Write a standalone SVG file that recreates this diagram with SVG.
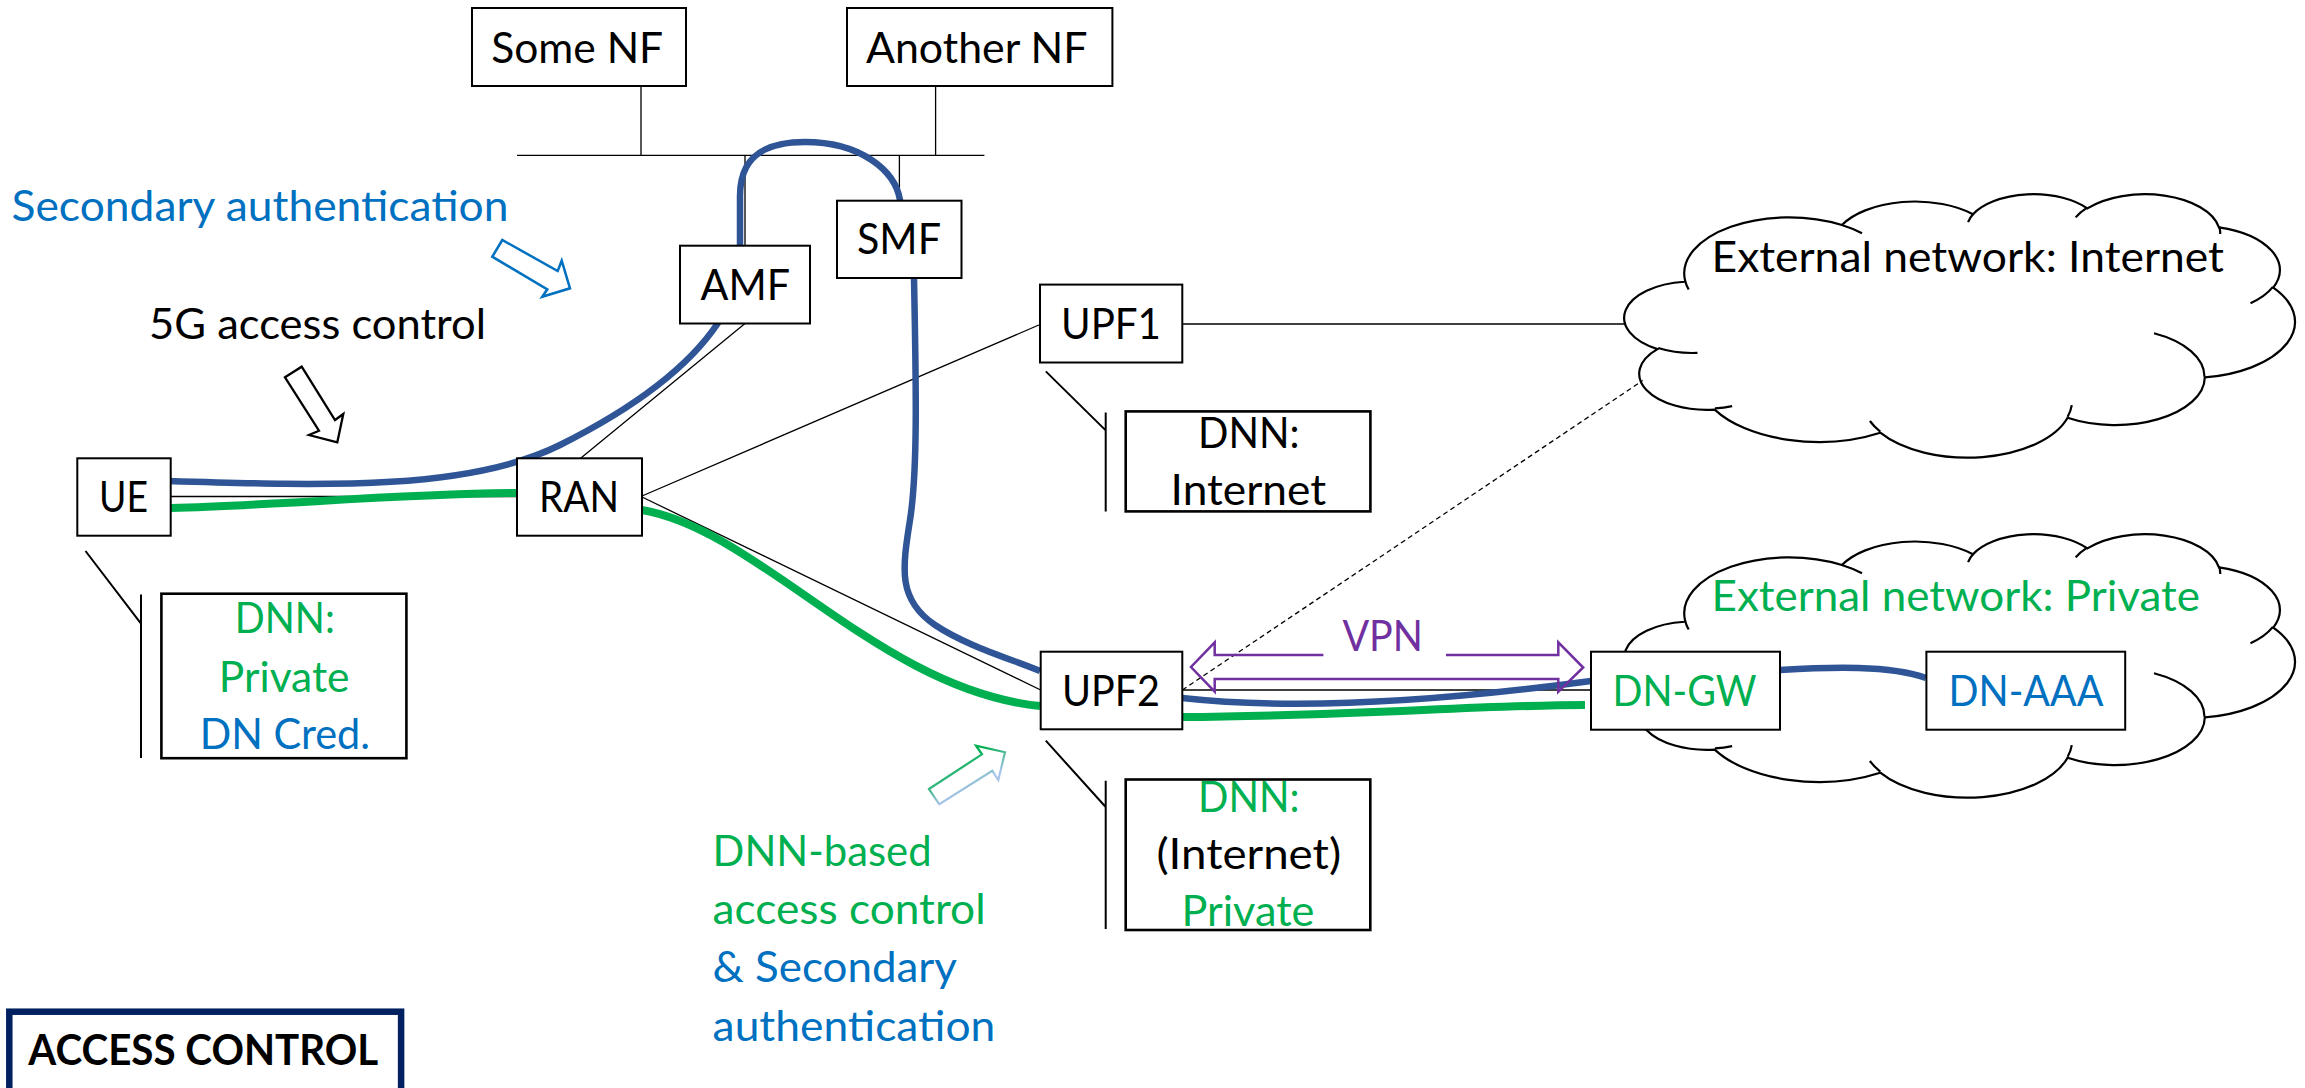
<svg xmlns="http://www.w3.org/2000/svg" width="2305" height="1088" viewBox="0 0 2305 1088">
<style>
.box{fill:#fff;stroke:#000;stroke-width:2}
.dnn{fill:#fff;stroke:#000;stroke-width:2.6}
.t{font-family:Lato,"Liberation Sans",sans-serif;font-size:42px;fill:#000}
.g{fill:#00B050}.b{fill:#0070C0}.p{fill:#7030A0}
.thin{stroke:#000;stroke-width:1.3;fill:none}
.br{stroke:#000;stroke-width:2;fill:none}
.blue{stroke:#2F5597;stroke-width:6.5;fill:none;stroke-linecap:butt}
.green{stroke:#00B050;stroke-width:8;fill:none}
.cl{stroke:#000;stroke-width:2.2;vector-effect:non-scaling-stroke}
</style>
<defs>
<linearGradient id="ga" gradientUnits="userSpaceOnUse" x1="953" y1="766" x2="966" y2="790">
<stop offset="0" stop-color="#00B050"/><stop offset="1" stop-color="#A9C4EB"/>
</linearGradient>
<g id="cloudShape">
<path class="cl" fill="#fff" d="M3900,14370 A6753,9190 0 0,1 14004.7,5201.7 A5333,7267 0 0,1 22455.5,3432.6 A4365,5945 0 0,1 29832.5,2481 A4857,6595 0 0,1 38317.5,5576.8 A5333,7273 0 0,1 41818,15460.6 A6775,9220 0 0,1 37404,30204.7 A5785,7867 0 0,1 28555.3,36814.7 A6752,9215 0 0,1 16479.5,39265.4 A7720,10543 0 0,1 5804.4,35472 A4360,5918 0 0,1 2113.2,25550 A4345,5945 0 0,1 3862.9,14506.2 Z"/>
<path class="cl" fill="none" d="M4693,26177 A4345,5945 0 0,1 2160,25380.2 M6928,34899 A4360,5918 0 0,1 5819.7,35280.4 M16478,39090 A6752,9215 0 0,1 15810,37349.3 M28827,34751 A6752,9215 0 0,1 28560.4,36660 M34129,22954 A5785,7867 0 0,1 37380.4,30089.6 M41798,15354 A5333,7273 0 0,1 40349.6,18030.5 M38324,5426 A4857,6595 0 0,1 38400.4,6689.5 M29078,3952 A4857,6595 0 0,1 29819.8,2340.1 M22141,4720 A4365,5945 0 0,1 22500.2,3329.9 M14000,5192 A6753,9190 0 0,1 15302.1,6543.2 M4127,15789 A6753,9190 0 0,1 3900.2,14370"/>
</g>
</defs>
<rect width="2305" height="1088" fill="#fff"/>

<g id="cloud-internet">
<use href="#cloudShape" transform="translate(1624.7,193.3) scale(0.015509,0.0060972)"/>
<text class="t" x="1711.5" y="271.7" textLength="512.5" lengthAdjust="spacingAndGlyphs">External network: Internet</text>
</g>
<g id="cloud-private">
<use href="#cloudShape" transform="translate(1624.7,533.3) scale(0.015509,0.0060972)"/>
<text class="t g" x="1711.5" y="610.7" textLength="488.5" lengthAdjust="spacingAndGlyphs">External network: Private</text>
</g>

<g id="connectors">
<path class="thin" d="M517,155.3 H984.4 M641,86 V155.3 M935.6,86 V155.3 M745,155.3 V245.7 M899.4,155.3 V200.7"/>
<path class="thin" d="M580.6,458.3 L745,323.5 M642,496 L1040,324.5 M642,497 L1040.7,690 M170.7,496.5 H516.7 M1182.3,324 H1626"/>
<path class="thin" stroke-width="1.6" d="M1182.3,690 H1591"/>
<path class="thin" stroke-width="1.2" stroke-dasharray="5 3.5" d="M1182.3,690 L1642.7,380.5"/>
<path class="br" d="M85.5,551 L141,623.6 M141,594.5 V758 M1045.8,371.4 L1105.7,430.4 M1105.7,412.5 V511.4 M1045.8,740.7 L1105.7,807 M1105.7,780.7 V929"/>
<path class="green" d="M171,508 C280,505 400,494 517,493"/>
<path class="green" d="M642,510 C760,530 880,690 1040,706"/>
<path class="green" d="M1182,717 C1350,716 1480,705 1585,705"/>
<path class="blue" d="M168,481 C330,486 470,490 560,445 C640,405 690,365 718,323 L740,246 L740,196 C740,160 760,142 805,142 C860,142 895,170 900,200 L914,278 C916,380 918,470 910,520 C902,570 898,600 935,625 C965,645 1005,657 1040,671"/>
<path class="blue" d="M1182,698 C1300,711 1450,700 1591,681"/>
<path class="blue" d="M1780,670 C1830,667 1890,665 1926,678"/>
<path fill="none" stroke="#7030A0" stroke-width="2.5" d="M1323.4,655 H1214.7 V642.3 L1191,667 L1214.7,691.7 V679 H1558.3 V691.7 L1583.2,667.5 L1558.3,642.3 V655 H1446"/>
<text class="t p" x="1342.4" y="651" textLength="80.6" lengthAdjust="spacingAndGlyphs">VPN</text>
<polygon fill="#fff" stroke="#0070C0" stroke-width="2.5" points="492.3,256.7 502.3,240 557.7,271 561.7,260.7 570,288.3 542.3,296.7 547.3,289.3"/>
<polygon fill="#fff" stroke="#000" stroke-width="2.3" points="285,377.3 301.7,366.7 335,420 343.3,414 337.3,442.3 309,435 319,430.7"/>
<polygon fill="#fff" stroke="url(#ga)" stroke-width="2.2" points="929,789 982,754.3 976,745.7 1005,752.3 998.3,780 992.3,770.7 939.3,804.3"/>
</g>

<g id="some-nf"><rect class="box" x="472" y="8" width="214" height="78"/><text class="t" x="491.2" y="63" textLength="172" lengthAdjust="spacingAndGlyphs">Some NF</text></g>
<g id="another-nf"><rect class="box" x="847" y="8" width="265.4" height="78"/><text class="t" x="866" y="63" textLength="221.4" lengthAdjust="spacingAndGlyphs">Another NF</text></g>
<g id="amf"><rect class="box" x="680" y="245.7" width="130" height="77.8"/><text class="t" x="700.5" y="299.5" textLength="89.5" lengthAdjust="spacingAndGlyphs">AMF</text></g>
<g id="smf"><rect class="box" x="837" y="200.7" width="124.5" height="77.3"/><text class="t" x="857" y="254" textLength="84" lengthAdjust="spacingAndGlyphs">SMF</text></g>
<g id="ue"><rect class="box" x="77.3" y="458.3" width="93.4" height="77.4"/><text class="t" x="99" y="512" textLength="49" lengthAdjust="spacingAndGlyphs">UE</text></g>
<g id="ran"><rect class="box" x="517" y="458.3" width="125" height="77.4"/><text class="t" x="539" y="512" textLength="80" lengthAdjust="spacingAndGlyphs">RAN</text></g>
<g id="upf1"><rect class="box" x="1040" y="284.6" width="142.3" height="77.9"/><text class="t" x="1061" y="339" textLength="100" lengthAdjust="spacingAndGlyphs">UPF1</text></g>
<g id="upf2"><rect class="box" x="1040.7" y="651.7" width="141.6" height="77.6"/><text class="t" x="1062" y="706" textLength="98" lengthAdjust="spacingAndGlyphs">UPF2</text></g>
<g id="dn-gw"><rect class="box" x="1591" y="651.7" width="189" height="78"/><text class="t g" x="1612.6" y="706" textLength="144" lengthAdjust="spacingAndGlyphs">DN-GW</text></g>
<g id="dn-aaa"><rect class="box" x="1926.4" y="651.7" width="198.8" height="78"/><text class="t b" x="1948.5" y="706" textLength="155" lengthAdjust="spacingAndGlyphs">DN-AAA</text></g>

<g id="ue-dnn"><rect class="dnn" x="161.4" y="593.7" width="245" height="164.5"/>
<text class="t g" x="234.8" y="633.3" textLength="100" lengthAdjust="spacingAndGlyphs">DNN:</text>
<text class="t g" x="218.8" y="691.5" textLength="130.8" lengthAdjust="spacingAndGlyphs">Private</text>
<text class="t b" x="199.7" y="749" textLength="170.3" lengthAdjust="spacingAndGlyphs">DN Cred.</text></g>
<g id="upf1-dnn"><rect class="dnn" x="1125.7" y="411.4" width="244.7" height="100"/>
<text class="t" x="1198" y="448" textLength="101.5" lengthAdjust="spacingAndGlyphs">DNN:</text>
<text class="t" x="1170.6" y="505.2" textLength="155.4" lengthAdjust="spacingAndGlyphs">Internet</text></g>
<g id="upf2-dnn"><rect class="dnn" x="1125.7" y="779.5" width="244.6" height="150.5"/>
<text class="t g" x="1198" y="811.7" textLength="101.5" lengthAdjust="spacingAndGlyphs">DNN:</text>
<text class="t" x="1156.4" y="869" textLength="184.7" lengthAdjust="spacingAndGlyphs">(Internet)</text>
<text class="t g" x="1181.4" y="926" textLength="133" lengthAdjust="spacingAndGlyphs">Private</text></g>

<g id="labels">
<text class="t b" x="11.5" y="221" textLength="497" lengthAdjust="spacingAndGlyphs">Secondary authentication</text>
<text class="t" x="149" y="339" textLength="337" lengthAdjust="spacingAndGlyphs">5G access control</text>
<text class="t g" x="712.6" y="866" textLength="219" lengthAdjust="spacingAndGlyphs">DNN-based</text>
<text class="t g" x="712.6" y="924.3" textLength="273" lengthAdjust="spacingAndGlyphs">access control</text>
<text class="t b" x="712.6" y="982" textLength="244.4" lengthAdjust="spacingAndGlyphs">&amp; Secondary</text>
<text class="t b" x="712.6" y="1040.7" textLength="282.7" lengthAdjust="spacingAndGlyphs">authentication</text>
</g>
<g id="access-control"><rect x="9.3" y="1011.7" width="391.8" height="100" fill="#fff" stroke="#002060" stroke-width="6.5"/>
<text class="t" x="28.3" y="1065" font-weight="bold" textLength="350" lengthAdjust="spacingAndGlyphs">ACCESS CONTROL</text></g>
</svg>
